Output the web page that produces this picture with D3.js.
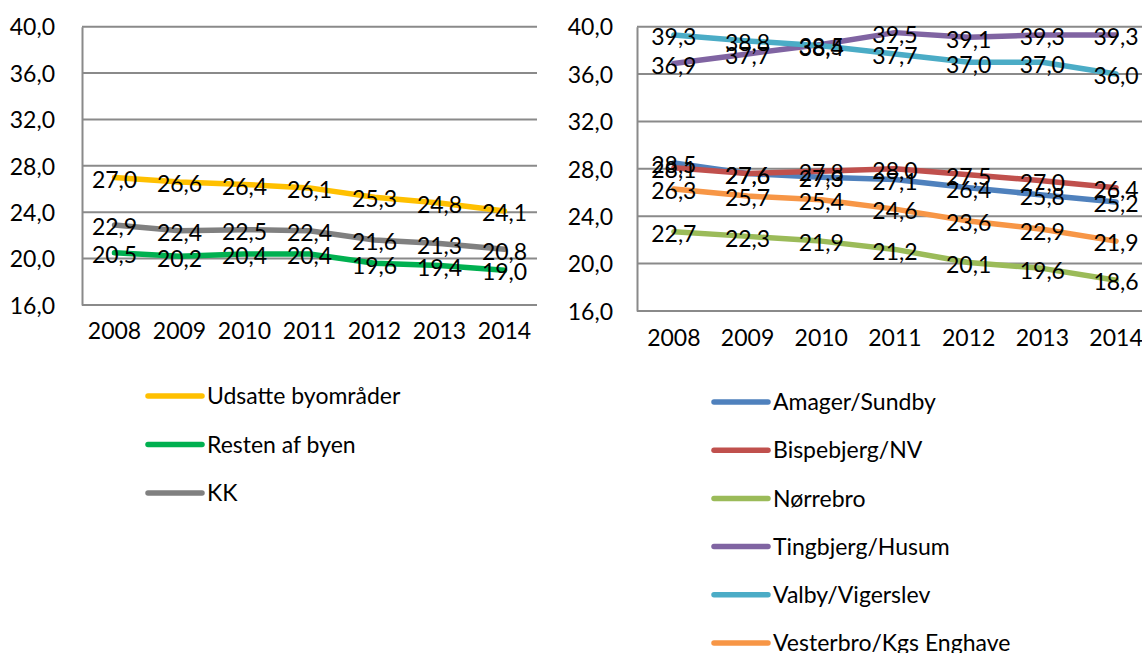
<!DOCTYPE html>
<html>
<head>
<meta charset="utf-8">
<script src="https://cdn.jsdelivr.net/npm/d3@7"></script>
<style>
  html, body { margin: 0; padding: 0; background: #fff; }
  svg { display: block; font-family: Lato, "Open Sans", sans-serif; }
</style>
</head>
<body>
<svg id="chart" width="1142" height="653"></svg>
<script>
// ---- data ----
const years = ["2008", "2009", "2010", "2011", "2012", "2013", "2014"];
const yTicks = [16, 20, 24, 28, 32, 36, 40];

const leftNames = ["Udsatte byområder", "Resten af byen", "KK"];
const leftColors = ["#FFC000", "#00B050", "#808080"];
const udsatte = [27.0, 26.6, 26.4, 26.1, 25.3, 24.8, 24.1];
const resten  = [20.5, 20.2, 20.4, 20.4, 19.6, 19.4, 19.0];
const kk      = [22.9, 22.4, 22.5, 22.4, 21.6, 21.3, 20.8];

const rightNames = ["Amager/Sundby", "Bispebjerg/NV", "Nørrebro", "Tingbjerg/Husum", "Valby/Vigerslev", "Vesterbro/Kgs Enghave"];
const rightColors = ["#4F81BD", "#C0504D", "#9BBB59", "#8064A2", "#4BACC6", "#F79646"];
const amager     = [28.5, 27.6, 27.3, 27.1, 26.4, 25.8, 25.2];
const bispebjerg = [28.1, 27.6, 27.8, 28.0, 27.5, 27.0, 26.4];
const norrebro   = [22.7, 22.3, 21.9, 21.2, 20.1, 19.6, 18.6];
const tingbjerg  = [36.9, 37.7, 38.5, 39.5, 39.1, 39.3, 39.3];
const valby      = [39.3, 38.8, 38.4, 37.7, 37.0, 37.0, 36.0];
const vesterbro  = [26.3, 25.7, 25.4, 24.6, 23.6, 22.9, 21.9];

const leftValues = [udsatte, resten, kk];
const rightValues = [amager, bispebjerg, norrebro, tingbjerg, valby, vesterbro];

// ---- drawing ----
const svg = d3.select("#chart");
const locale = d3.formatLocale({ decimal: ",", thousands: ".", grouping: [3], currency: ["", " kr"] });
const fmt = locale.format(".1f");
const FONT = 23;
const GRID = "#8a8a8a";

function drawChart(opt) {
  const g = svg.append("g");
  const x = d3.scaleBand().domain(years).range([opt.left, opt.right]).padding(0);
  const y = d3.scaleLinear().domain([16, 40]).range([opt.bottom, opt.top]);

  // gridlines
  g.append("g").selectAll("line").data(yTicks).join("line")
    .attr("x1", opt.left).attr("x2", opt.right)
    .attr("y1", d => y(d)).attr("y2", d => y(d))
    .attr("stroke", GRID).attr("stroke-width", 2);

  // y axis
  const ya = g.append("g").attr("transform", `translate(${opt.left},0)`)
    .call(d3.axisLeft(y).tickValues(yTicks).tickFormat(fmt).tickSize(0).tickPadding(opt.yPad));
  ya.select(".domain").attr("stroke", GRID).attr("stroke-width", 2);
  ya.selectAll("text").attr("font-size", FONT).attr("font-family", "Lato").attr("fill", "#000").attr("dy", "0.36em");

  // x axis
  const xa = g.append("g").attr("transform", `translate(0,${opt.bottom})`)
    .call(d3.axisBottom(x).tickSize(0).tickPadding(opt.xPad));
  xa.select(".domain").remove();
  xa.selectAll("text").attr("font-size", FONT).attr("font-family", "Lato").attr("fill", "#000");

  const cx = d => x(d) + x.bandwidth() / 2;
  const line = d3.line().x((d, i) => cx(years[i])).y(d => y(d));

  opt.values.forEach((vals, s) => {
    g.append("path").datum(vals)
      .attr("d", line).attr("fill", "none")
      .attr("stroke", opt.colors[s]).attr("stroke-width", 5.5)
      .attr("stroke-linejoin", "round").attr("stroke-linecap", "round");
  });
  opt.values.forEach((vals) => {
    g.append("g").selectAll("text").data(vals).join("text")
      .attr("x", (d, i) => cx(years[i]))
      .attr("y", d => y(d) + 2)
      .attr("dy", "0.36em")
      .attr("text-anchor", "middle")
      .attr("font-size", FONT).attr("font-family", "Lato")
      .attr("fill", "#000")
      .text(d => fmt(d));
  });

  // legend
  const lg = g.append("g");
  opt.names.forEach((n, s) => {
    const yy = opt.legY + s * opt.legStep;
    lg.append("line").attr("x1", opt.legX).attr("x2", opt.legX + 54)
      .attr("y1", yy).attr("y2", yy)
      .attr("stroke", opt.colors[s]).attr("stroke-width", 5.5).attr("stroke-linecap", "round");
    lg.append("text").attr("x", opt.legX + 59).attr("y", yy).attr("dy", "0.36em")
      .attr("font-size", FONT).attr("font-family", "Lato").attr("fill", "#000").text(n);
  });
}

drawChart({
  left: 82, right: 537, top: 26.7, bottom: 305,
  values: leftValues, colors: leftColors, names: leftNames,
  yPad: 27, xPad: 18,
  legX: 148, legY: 396, legStep: 48.5
});

drawChart({
  left: 637, right: 637 + 7 * 73.7, top: 26.7, bottom: 311,
  values: rightValues, colors: rightColors, names: rightNames,
  yPad: 24, xPad: 19,
  legX: 714, legY: 402, legStep: 48.2
});
</script>
</body>
</html>
